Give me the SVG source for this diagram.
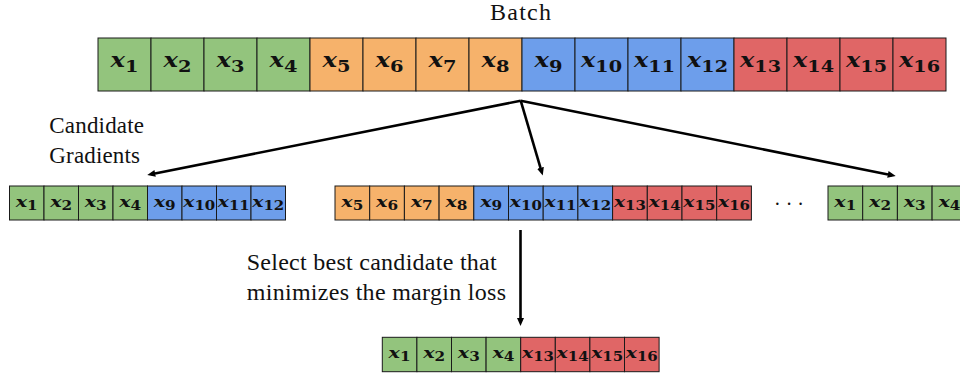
<svg xmlns="http://www.w3.org/2000/svg" width="960" height="377" viewBox="0 0 960 377">
<defs>
<style>
.g{fill:#93c47d}.o{fill:#f6b26b}.b{fill:#6d9eeb}.r{fill:#e06666}
.g,.o,.b,.r{stroke:#1a1a1a;stroke-width:1}
.lt{font-family:"DejaVu Serif",serif;font-weight:bold;font-style:italic;font-size:20px;fill:#111;text-anchor:middle}
.lt tspan{font-style:normal;font-size:16px}
.ls{font-family:"DejaVu Serif",serif;font-weight:bold;font-style:italic;font-size:15px;fill:#111;text-anchor:middle}
.ls tspan{font-style:normal;font-size:12px}
.t{font-family:"Liberation Serif","Times New Roman",serif;fill:#111}
.conn line{stroke:#000;stroke-width:2.6;marker-end:url(#ah)}
</style>
<marker id="ah" markerUnits="userSpaceOnUse" markerWidth="9" markerHeight="8" refX="4" refY="3.5" orient="auto"><path d="M0,0 L8,3.5 L0,7 z" fill="#000"/></marker>
</defs>
<rect width="960" height="377" fill="#fff"/>

<text class="t" x="490" y="20" font-size="24" textLength="61">Batch</text>

<g id="batch">
<rect class="g" x="98" y="38" width="53" height="53"/><rect class="g" x="151" y="38" width="53" height="53"/><rect class="g" x="204" y="38" width="53" height="53"/><rect class="g" x="257" y="38" width="53" height="53"/>
<rect class="o" x="310" y="38" width="53" height="53"/><rect class="o" x="363" y="38" width="53" height="53"/><rect class="o" x="416" y="38" width="53" height="53"/><rect class="o" x="469" y="38" width="53" height="53"/>
<rect class="b" x="522" y="38" width="53" height="53"/><rect class="b" x="575" y="38" width="53" height="53"/><rect class="b" x="628" y="38" width="53" height="53"/><rect class="b" x="681" y="38" width="53" height="53"/>
<rect class="r" x="734" y="38" width="53" height="53"/><rect class="r" x="787" y="38" width="53" height="53"/><rect class="r" x="840" y="38" width="53" height="53"/><rect class="r" x="893" y="38" width="53" height="53"/>
<text class="lt" x="124.5" y="67" textLength="28" lengthAdjust="spacingAndGlyphs">x<tspan dy="5">1</tspan></text>
<text class="lt" x="177.5" y="67" textLength="28" lengthAdjust="spacingAndGlyphs">x<tspan dy="5">2</tspan></text>
<text class="lt" x="230.5" y="67" textLength="28" lengthAdjust="spacingAndGlyphs">x<tspan dy="5">3</tspan></text>
<text class="lt" x="283.5" y="67" textLength="28" lengthAdjust="spacingAndGlyphs">x<tspan dy="5">4</tspan></text>
<text class="lt" x="336.5" y="67" textLength="28" lengthAdjust="spacingAndGlyphs">x<tspan dy="5">5</tspan></text>
<text class="lt" x="389.5" y="67" textLength="28" lengthAdjust="spacingAndGlyphs">x<tspan dy="5">6</tspan></text>
<text class="lt" x="442.5" y="67" textLength="28" lengthAdjust="spacingAndGlyphs">x<tspan dy="5">7</tspan></text>
<text class="lt" x="495.5" y="67" textLength="28" lengthAdjust="spacingAndGlyphs">x<tspan dy="5">8</tspan></text>
<text class="lt" x="548.5" y="67" textLength="28" lengthAdjust="spacingAndGlyphs">x<tspan dy="5">9</tspan></text>
<text class="lt" x="601.5" y="67" textLength="41" lengthAdjust="spacingAndGlyphs">x<tspan dy="5">10</tspan></text>
<text class="lt" x="654.5" y="67" textLength="41" lengthAdjust="spacingAndGlyphs">x<tspan dy="5">11</tspan></text>
<text class="lt" x="707.5" y="67" textLength="41" lengthAdjust="spacingAndGlyphs">x<tspan dy="5">12</tspan></text>
<text class="lt" x="760.5" y="67" textLength="41" lengthAdjust="spacingAndGlyphs">x<tspan dy="5">13</tspan></text>
<text class="lt" x="813.5" y="67" textLength="41" lengthAdjust="spacingAndGlyphs">x<tspan dy="5">14</tspan></text>
<text class="lt" x="866.5" y="67" textLength="41" lengthAdjust="spacingAndGlyphs">x<tspan dy="5">15</tspan></text>
<text class="lt" x="919.5" y="67" textLength="41" lengthAdjust="spacingAndGlyphs">x<tspan dy="5">16</tspan></text>
</g>

<text class="t" x="49.3" y="133.3" font-size="23" textLength="94.7">Candidate</text>
<text class="t" x="49.3" y="163.3" font-size="23" textLength="90.7">Gradients</text>

<g id="candidate-1">
<rect class="g" x="9.5" y="186" width="34.5" height="34"/><rect class="g" x="44" y="186" width="34.5" height="34"/><rect class="g" x="78.5" y="186" width="34.5" height="34"/><rect class="g" x="113" y="186" width="34.5" height="34"/>
<rect class="b" x="147.5" y="186" width="34.5" height="34"/><rect class="b" x="182" y="186" width="34.5" height="34"/><rect class="b" x="216.5" y="186" width="34.5" height="34"/><rect class="b" x="251" y="186" width="34.5" height="34"/>
<text class="ls" x="26.75" y="206.5" textLength="22" lengthAdjust="spacingAndGlyphs">x<tspan dy="3">1</tspan></text>
<text class="ls" x="61.25" y="206.5" textLength="22" lengthAdjust="spacingAndGlyphs">x<tspan dy="3">2</tspan></text>
<text class="ls" x="95.75" y="206.5" textLength="22" lengthAdjust="spacingAndGlyphs">x<tspan dy="3">3</tspan></text>
<text class="ls" x="130.25" y="206.5" textLength="22" lengthAdjust="spacingAndGlyphs">x<tspan dy="3">4</tspan></text>
<text class="ls" x="164.75" y="206.5" textLength="22" lengthAdjust="spacingAndGlyphs">x<tspan dy="3">9</tspan></text>
<text class="ls" x="199.25" y="206.5" textLength="32" lengthAdjust="spacingAndGlyphs">x<tspan dy="3">10</tspan></text>
<text class="ls" x="233.75" y="206.5" textLength="32" lengthAdjust="spacingAndGlyphs">x<tspan dy="3">11</tspan></text>
<text class="ls" x="268.25" y="206.5" textLength="32" lengthAdjust="spacingAndGlyphs">x<tspan dy="3">12</tspan></text>
</g>

<g id="candidate-2">
<rect class="o" x="335" y="186" width="34.7" height="34"/><rect class="o" x="369.7" y="186" width="34.7" height="34"/><rect class="o" x="404.4" y="186" width="34.7" height="34"/><rect class="o" x="439.1" y="186" width="34.7" height="34"/>
<rect class="b" x="473.8" y="186" width="34.7" height="34"/><rect class="b" x="508.5" y="186" width="34.7" height="34"/><rect class="b" x="543.2" y="186" width="34.7" height="34"/><rect class="b" x="577.9" y="186" width="34.7" height="34"/>
<rect class="r" x="612.6" y="186" width="34.7" height="34"/><rect class="r" x="647.3" y="186" width="34.7" height="34"/><rect class="r" x="682" y="186" width="34.7" height="34"/><rect class="r" x="716.7" y="186" width="34.7" height="34"/>
<text class="ls" x="352.35" y="206.5" textLength="22" lengthAdjust="spacingAndGlyphs">x<tspan dy="3">5</tspan></text>
<text class="ls" x="387.05" y="206.5" textLength="22" lengthAdjust="spacingAndGlyphs">x<tspan dy="3">6</tspan></text>
<text class="ls" x="421.75" y="206.5" textLength="22" lengthAdjust="spacingAndGlyphs">x<tspan dy="3">7</tspan></text>
<text class="ls" x="456.45" y="206.5" textLength="22" lengthAdjust="spacingAndGlyphs">x<tspan dy="3">8</tspan></text>
<text class="ls" x="491.15" y="206.5" textLength="22" lengthAdjust="spacingAndGlyphs">x<tspan dy="3">9</tspan></text>
<text class="ls" x="525.85" y="206.5" textLength="32" lengthAdjust="spacingAndGlyphs">x<tspan dy="3">10</tspan></text>
<text class="ls" x="560.55" y="206.5" textLength="32" lengthAdjust="spacingAndGlyphs">x<tspan dy="3">11</tspan></text>
<text class="ls" x="595.25" y="206.5" textLength="32" lengthAdjust="spacingAndGlyphs">x<tspan dy="3">12</tspan></text>
<text class="ls" x="629.95" y="206.5" textLength="32" lengthAdjust="spacingAndGlyphs">x<tspan dy="3">13</tspan></text>
<text class="ls" x="664.65" y="206.5" textLength="32" lengthAdjust="spacingAndGlyphs">x<tspan dy="3">14</tspan></text>
<text class="ls" x="699.35" y="206.5" textLength="32" lengthAdjust="spacingAndGlyphs">x<tspan dy="3">15</tspan></text>
<text class="ls" x="734.05" y="206.5" textLength="32" lengthAdjust="spacingAndGlyphs">x<tspan dy="3">16</tspan></text>
</g>

<text class="t" x="789" y="211" font-size="20" text-anchor="middle">· · ·</text>

<g id="candidate-n">
<rect class="g" x="828" y="186" width="34.7" height="34"/><rect class="g" x="862.7" y="186" width="34.7" height="34"/><rect class="g" x="897.4" y="186" width="34.7" height="34"/><rect class="g" x="932.1" y="186" width="34.7" height="34"/>
<text class="ls" x="845.35" y="206.5" textLength="22" lengthAdjust="spacingAndGlyphs">x<tspan dy="3">1</tspan></text>
<text class="ls" x="880.05" y="206.5" textLength="22" lengthAdjust="spacingAndGlyphs">x<tspan dy="3">2</tspan></text>
<text class="ls" x="914.75" y="206.5" textLength="22" lengthAdjust="spacingAndGlyphs">x<tspan dy="3">3</tspan></text>
<text class="ls" x="949.45" y="206.5" textLength="22" lengthAdjust="spacingAndGlyphs">x<tspan dy="3">4</tspan></text>
</g>

<text class="t" x="246.7" y="270" font-size="24" textLength="250">Select best candidate that</text>
<text class="t" x="246.7" y="300" font-size="24" textLength="259.3">minimizes the margin loss</text>

<g id="best">
<rect class="g" x="382.3" y="337.3" width="34.6" height="34.4"/><rect class="g" x="416.9" y="337.3" width="34.6" height="34.4"/><rect class="g" x="451.5" y="337.3" width="34.6" height="34.4"/><rect class="g" x="486.1" y="337.3" width="34.6" height="34.4"/>
<rect class="r" x="520.7" y="337.3" width="34.6" height="34.4"/><rect class="r" x="555.3" y="337.3" width="34.6" height="34.4"/><rect class="r" x="589.9" y="337.3" width="34.6" height="34.4"/><rect class="r" x="624.5" y="337.3" width="34.6" height="34.4"/>
<text class="ls" x="399.6" y="357.7" textLength="22" lengthAdjust="spacingAndGlyphs">x<tspan dy="3">1</tspan></text>
<text class="ls" x="434.2" y="357.7" textLength="22" lengthAdjust="spacingAndGlyphs">x<tspan dy="3">2</tspan></text>
<text class="ls" x="468.8" y="357.7" textLength="22" lengthAdjust="spacingAndGlyphs">x<tspan dy="3">3</tspan></text>
<text class="ls" x="503.4" y="357.7" textLength="22" lengthAdjust="spacingAndGlyphs">x<tspan dy="3">4</tspan></text>
<text class="ls" x="538" y="357.7" textLength="32" lengthAdjust="spacingAndGlyphs">x<tspan dy="3">13</tspan></text>
<text class="ls" x="572.6" y="357.7" textLength="32" lengthAdjust="spacingAndGlyphs">x<tspan dy="3">14</tspan></text>
<text class="ls" x="607.2" y="357.7" textLength="32" lengthAdjust="spacingAndGlyphs">x<tspan dy="3">15</tspan></text>
<text class="ls" x="641.8" y="357.7" textLength="32" lengthAdjust="spacingAndGlyphs">x<tspan dy="3">16</tspan></text>
</g>

<g id="connectors" class="conn">
<line x1="520.7" y1="100.7" x2="151.2" y2="174.2"/>
<line x1="520.7" y1="100.7" x2="541.6" y2="171.7"/>
<line x1="520.7" y1="100.7" x2="891.8" y2="175.2"/>
<line x1="520.5" y1="230" x2="520.5" y2="322"/>
</g>
</svg>
